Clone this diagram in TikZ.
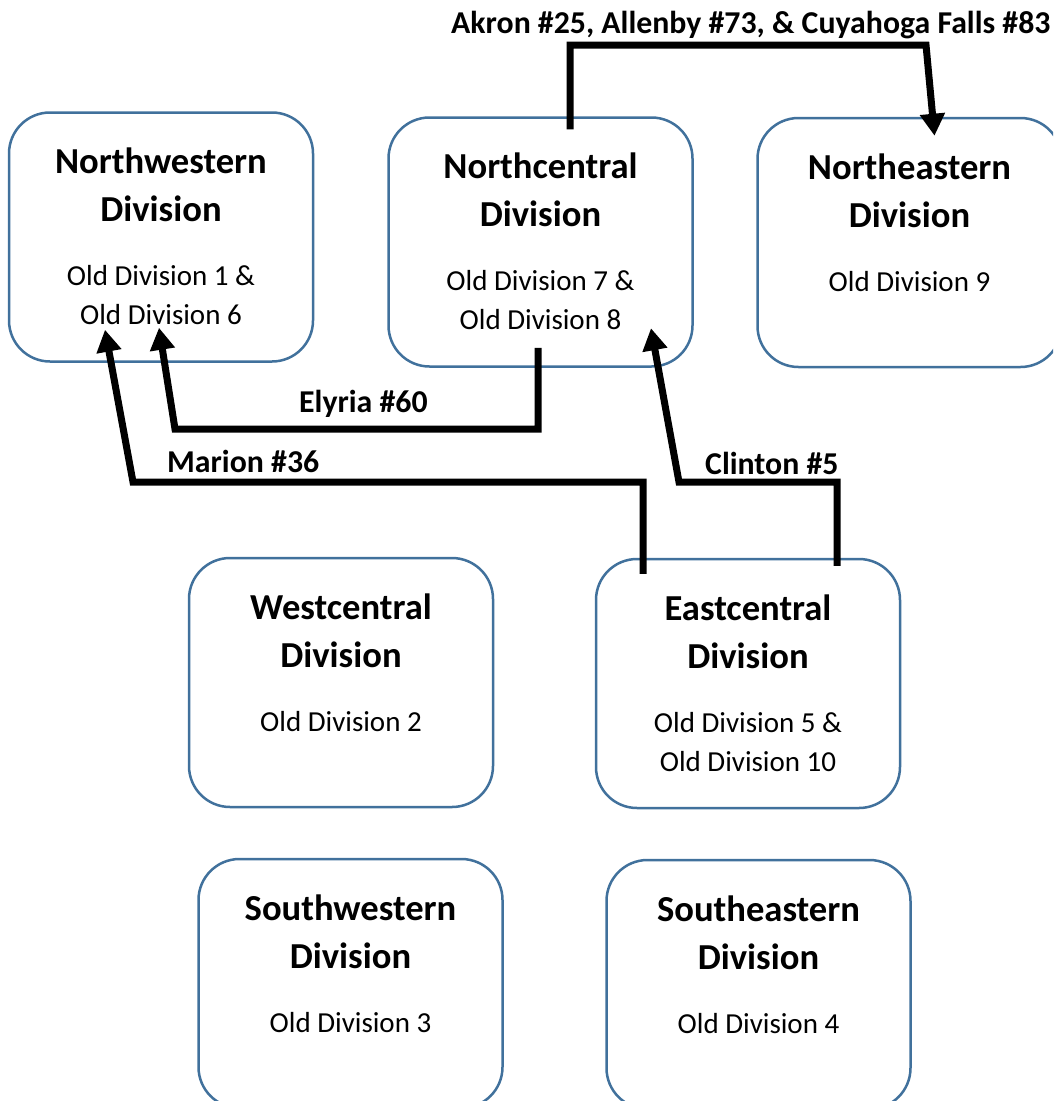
\documentclass[tikz,border=0pt]{standalone}
\usepackage{fontspec}
\setmainfont{Carlito}
\usetikzlibrary{arrows.meta,calc}
\definecolor{divblue}{RGB}{65,113,156}
\newcommand{\divtext}[2]{\parbox[c][249pt][t]{300pt}{\centering
  \fontsize{36.6}{48}\selectfont\bfseries\rule{0pt}{61pt}#1\\Division\par
  \vspace{25pt}\fontsize{29}{39}\selectfont\mdseries #2\par}}
\tikzset{division/.style={rectangle, rounded corners=41pt, draw=divblue, line width=2.5pt, fill=white,
  minimum width=304pt, minimum height=249pt, inner sep=0pt},
transfer/.style={line width=7pt, -{Triangle[length=22pt,width=24pt]}},
lbl/.style={font=\fontsize{31.8}{36}\selectfont\bfseries, anchor=base west, inner sep=0pt}}

\begin{document}
\begin{tikzpicture}[x=1pt,y=-1pt]
    \clip (0,0) rectangle (1053,1101);

    % Nodes
    \node[division] (nw) at (161,237) {\divtext{Northwestern}{Old Division 1 \&\\Old Division 6}};
    \node[division] (nc) at (540.5,242) {\divtext{Northcentral}{Old Division 7 \&\\Old Division 8}};
    \node[division] (ne) at (909.5,242.5) {\divtext{Northeastern}{Old Division 9}};
    \node[division] (wc) at (341,682.5) {\divtext{Westcentral}{Old Division 2}};
    \node[division] (ec) at (748,683.5) {\divtext{Eastcentral}{Old Division 5 \&\\Old Division 10}};
    \node[division] (sw) at (350.5,983.5) {\divtext{Southwestern}{Old Division 3}};
    \node[division] (se) at (758.5,984.5) {\divtext{Southeastern}{Old Division 4}};

    % Connector ends
    \coordinate (akS) at ($(nc.north)+(29.5,13)$);
    \coordinate (akC) at (926,45);
    \coordinate (akE) at ($(ne.north)+(25,19)$);
    \coordinate (elS) at ($(nc.south)+(-2.5,-20)$);
    \coordinate (elC) at (175,429);
    \coordinate (elE) at ($(nw.south)+(-2,-35)$);
    \coordinate (maS) at ($(ec.north)+(-105,16)$);
    \coordinate (maC) at (133,482);
    \coordinate (maE) at ($(nw.south)+(-56,-33)$);
    \coordinate (clS) at ($(ec.north)+(89,8)$);
    \coordinate (clC) at (679,482);
    \coordinate (clE) at ($(nc.south)+(110.5,-39.5)$);

    % Edges
    \draw[transfer] (akS) |- (akC) -- (akE);
    \draw[transfer] (elS) |- (elC) -- (elE);
    \draw[transfer] (maS) |- (maC) -- (maE);
    \draw[transfer] (clS) |- (clC) -- (clE);

    % Labels
    \node[lbl] (akron) at (451,33) {Akron \#25, Allenby \#73, \& Cuyahoga Falls \#83};
    \node[lbl] (elyria) at (299,412) {Elyria \#60};
    \node[lbl] (marion) at (167,472) {Marion \#36};
    \node[lbl] (clinton) at (705,474) {Clinton \#5};
\end{tikzpicture}
\end{document}
